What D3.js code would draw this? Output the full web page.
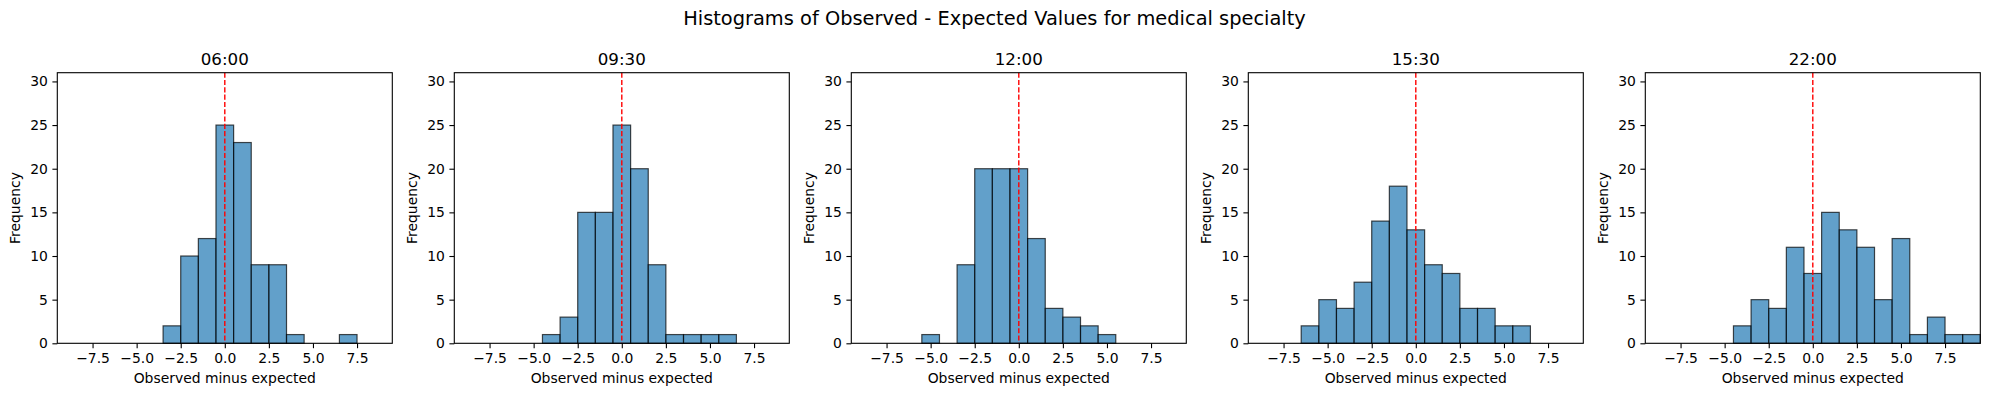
<!DOCTYPE html>
<html>
<head>
<meta charset="utf-8">
<script src="https://cdn.jsdelivr.net/npm/d3@7"></script>
<style>
  body { margin: 0; background: #fff; }
  svg { display: block; font-family: "DejaVu Sans", sans-serif; }
</style>
</head>
<body>
<div id="chart"></div>
<script>
// data: unit-width bins centred on integers
var panelTitles = ["06:00", "09:30", "12:00", "15:30", "22:00"];
var binCenters = [-9, -8, -7, -6, -5, -4, -3, -2, -1, 0, 1, 2, 3, 4, 5, 6, 7, 8, 9];
var counts0600 = [0, 0, 0, 0, 0, 0, 2, 10, 12, 25, 23, 9, 9, 1, 0, 0, 1, 0, 0];
var counts0930 = [0, 0, 0, 0, 0, 1, 3, 15, 15, 25, 20, 9, 1, 1, 1, 1, 0, 0, 0];
var counts1200 = [0, 0, 0, 0, 1, 0, 9, 20, 20, 20, 12, 4, 3, 2, 1, 0, 0, 0, 0];
var counts1530 = [0, 0, 0, 2, 5, 4, 7, 14, 18, 13, 9, 8, 4, 4, 2, 2, 0, 0, 0];
var counts2200 = [0, 0, 0, 0, 0, 2, 5, 4, 11, 8, 15, 13, 11, 5, 12, 1, 3, 1, 1];
var xTicks = [-7.5, -5.0, -2.5, 0.0, 2.5, 5.0, 7.5];
var yTicks = [0, 5, 10, 15, 20, 25, 30];
var allCounts = [counts0600, counts0930, counts1200, counts1530, counts2200];

var W = 1989, H = 396;
var panelW = 335, panelTop = 72.7, panelBottom = 343.3;
var firstLeft = 57.3, step = 397;

var svg = d3.select("#chart").append("svg")
  .attr("width", W)
  .attr("height", H);

svg.append("text")
  .attr("x", W / 2)
  .attr("y", 25)
  .attr("text-anchor", "middle")
  .attr("font-size", "19.4px")
  .text("Histograms of Observed - Expected Values for medical specialty");

var y = d3.scaleLinear().domain([0, 31]).range([panelBottom, panelTop]);

var fmt = function(d) { return d3.format(".1f")(d).replace("-", "\u2212"); };

panelTitles.forEach(function(title, i) {
  var left = firstLeft + i * step;
  var x = d3.scaleLinear().domain([-9.5, 9.5]).range([0, panelW]);
  var g = svg.append("g").attr("transform", "translate(" + left + ",0)");

  var bins = binCenters.map(function(c, j) { return { c: c, n: allCounts[i][j] }; })
    .filter(function(d) { return d.n > 0; });

  g.selectAll("rect.bar")
    .data(bins)
    .enter()
    .append("rect")
    .attr("class", "bar")
    .attr("x", function(d) { return x(d.c - 0.5); })
    .attr("width", function(d) { return x(d.c + 0.5) - x(d.c - 0.5); })
    .attr("y", function(d) { return y(d.n); })
    .attr("height", function(d) { return y(0) - y(d.n); })
    .attr("fill", "#1f77b4")
    .attr("fill-opacity", 0.7)
    .attr("stroke", "#000")
    .attr("stroke-opacity", 0.7)
    .attr("stroke-width", 1.2);

  g.append("line")
    .attr("x1", x(0)).attr("x2", x(0))
    .attr("y1", panelTop).attr("y2", panelBottom)
    .attr("stroke", "red")
    .attr("stroke-width", 1.4)
    .attr("stroke-dasharray", "5.1,2.2");

  var xAxis = g.append("g")
    .attr("transform", "translate(0," + panelBottom + ")")
    .call(d3.axisBottom(x).tickValues(xTicks).tickFormat(fmt).tickSize(4.9).tickPadding(4.5));
  var yAxis = g.append("g")
    .call(d3.axisLeft(y).tickValues(yTicks).tickSize(4.9).tickPadding(4.5));

  [xAxis, yAxis].forEach(function(a) {
    a.select(".domain").remove();
    a.selectAll("line").attr("stroke", "#000").attr("stroke-width", 1.1);
    a.selectAll("text")
      .attr("font-family", "DejaVu Sans, sans-serif")
      .attr("font-size", "13.9px")
      .attr("fill", "#000");
  });

  g.append("rect")
    .attr("x", 0).attr("y", panelTop)
    .attr("width", panelW).attr("height", panelBottom - panelTop)
    .attr("fill", "none")
    .attr("stroke", "#000")
    .attr("stroke-width", 1.1);

  g.append("text")
    .attr("x", panelW / 2)
    .attr("y", 64.5)
    .attr("text-anchor", "middle")
    .attr("font-size", "16.7px")
    .text(title);

  g.append("text")
    .attr("x", panelW / 2)
    .attr("y", 383)
    .attr("text-anchor", "middle")
    .attr("font-size", "13.9px")
    .text("Observed minus expected");

  g.append("text")
    .attr("transform", "translate(-37," + ((panelTop + panelBottom) / 2) + ") rotate(-90)")
    .attr("text-anchor", "middle")
    .attr("font-size", "13.9px")
    .text("Frequency");
});
</script>
</body>
</html>
